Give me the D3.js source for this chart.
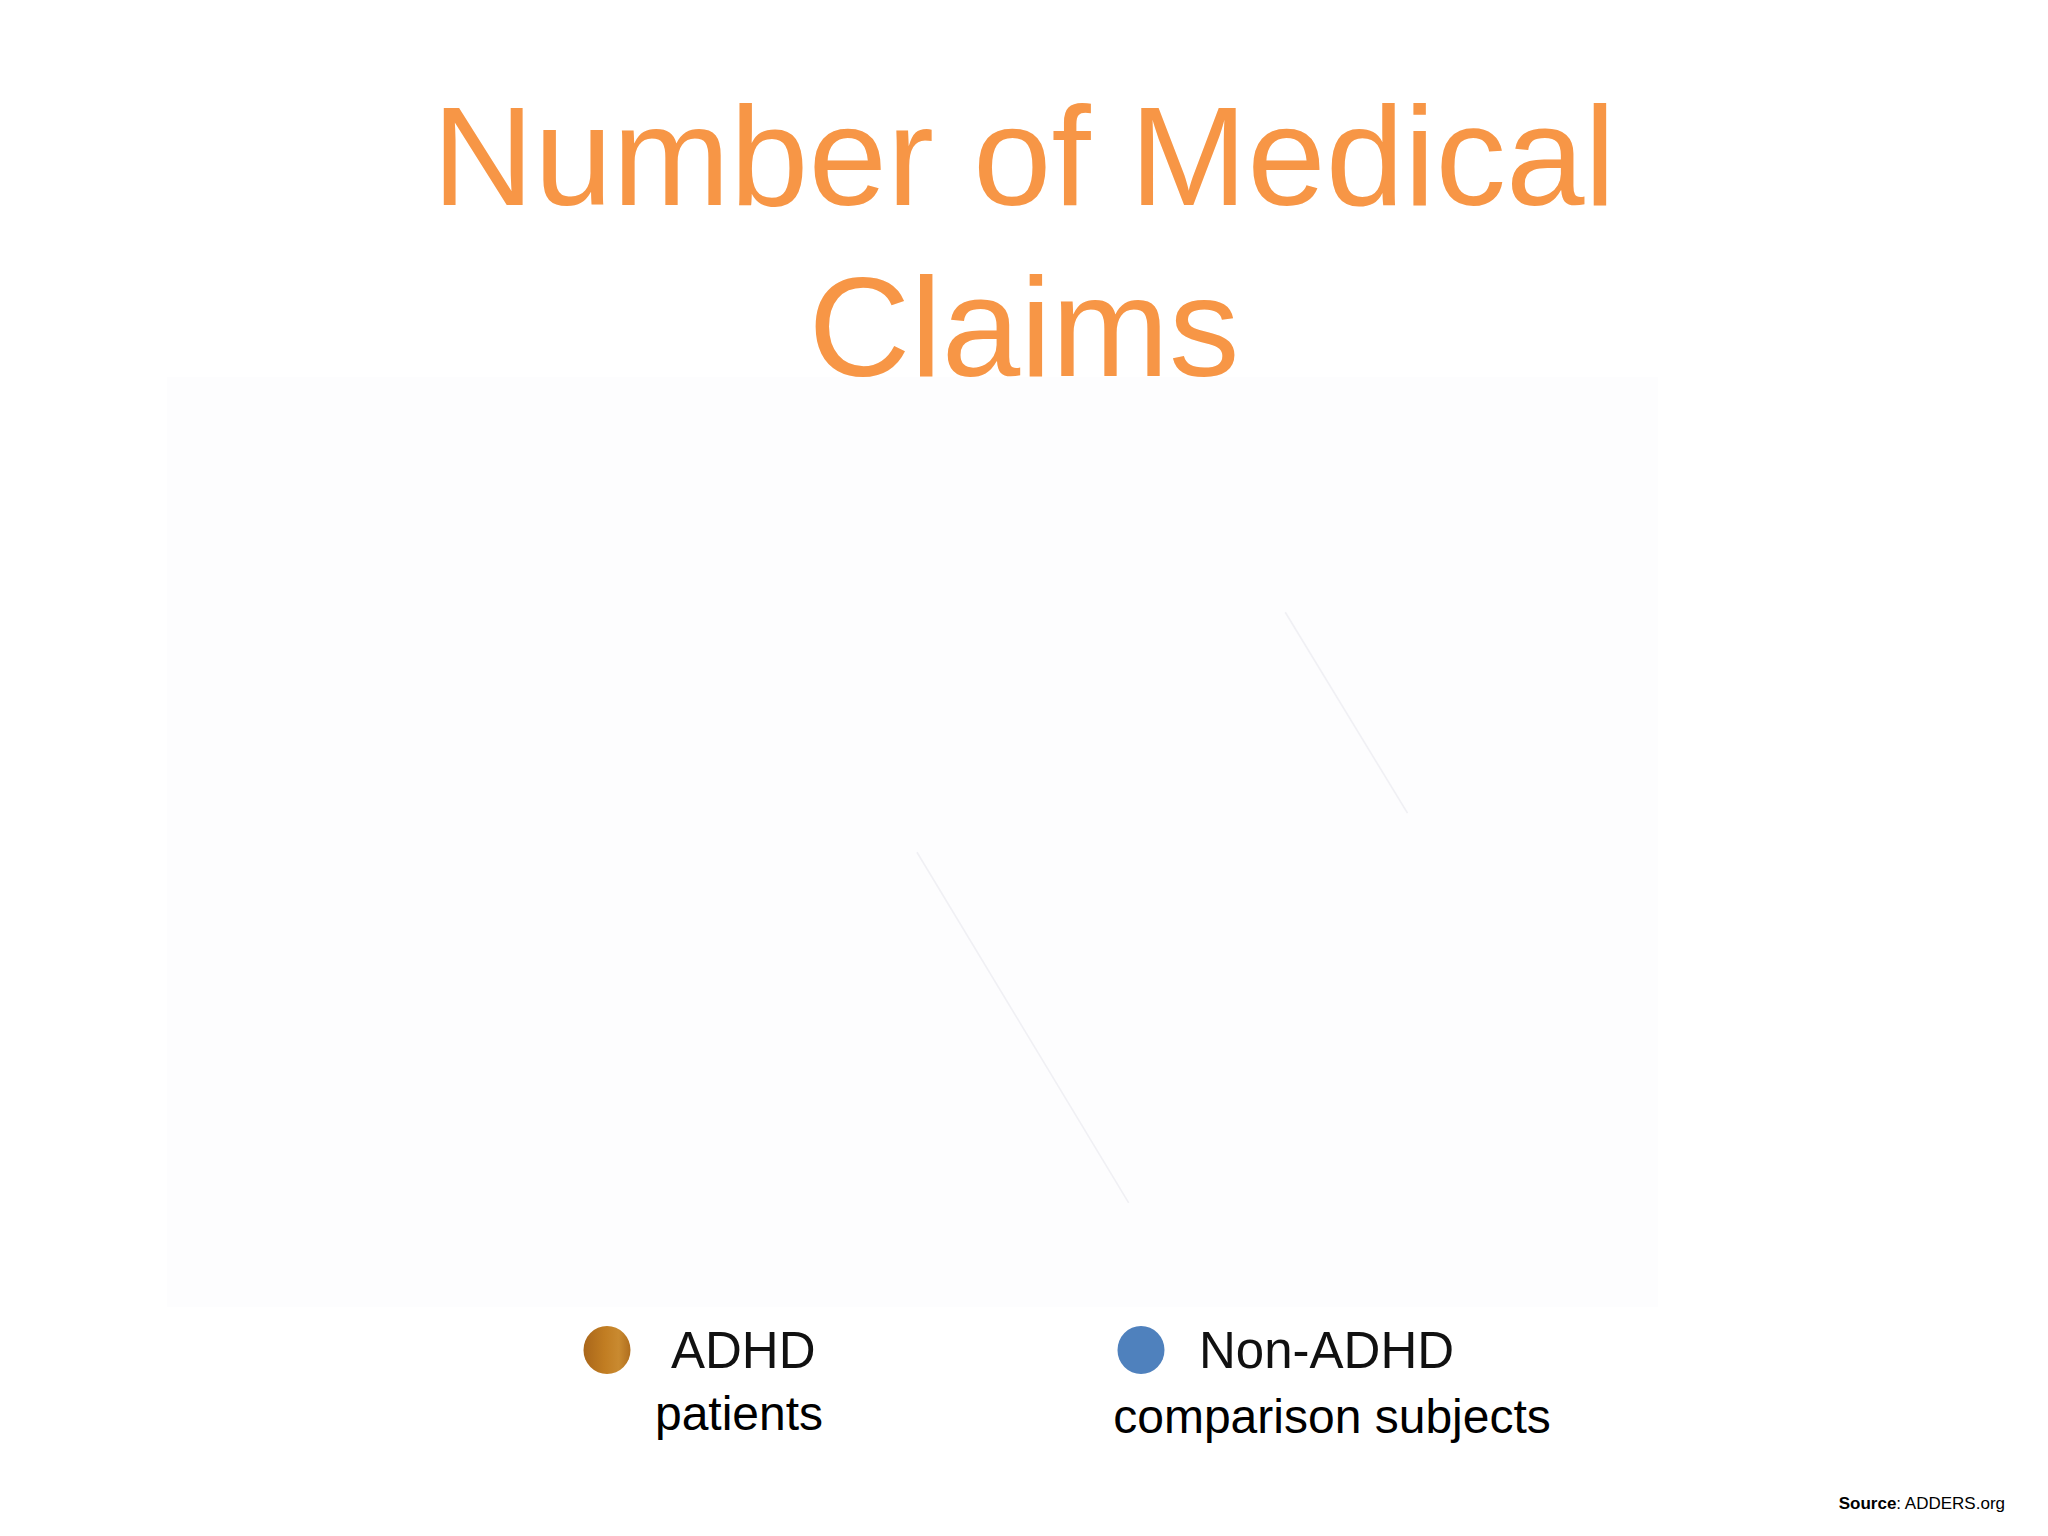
<!DOCTYPE html>
<html>
<head>
<meta charset="utf-8">
<script src="https://cdn.jsdelivr.net/npm/d3@7"></script>
<style>
  html, body { margin: 0; padding: 0; background: #ffffff; }
  svg { display: block; }
</style>
</head>
<body>
<div id="chart"></div>
<script>
(function (d3) {
    'use strict';

    // Title lines.
    var titleLines = ['Number of Medical', 'Claims'];

    // Legend labels (two lines per entry).
    var legendTop = ['ADHD', 'Non-ADHD'];
    var legendBottom = ['patients', 'comparison subjects'];

    // Faint remnants of the two series (x and y on a 0-100 scale).
    var adhdX = [50.3, 64.5];
    var adhdY = [48.9, 11.2];
    var nonAdhdX = [75.0, 83.2];
    var nonAdhdY = [74.7, 53.1];

    var sourceLabel = 'Source';
    var sourceText = ': ADDERS.org';

    var width = 2048;
    var height = 1536;

    // Plot area.
    var plot = {left: 167, right: 1658, top: 377, bottom: 1307};

    var x = d3.scaleLinear().domain([0, 100]).range([plot.left, plot.right]);
    var y = d3.scaleLinear().domain([0, 100]).range([plot.bottom, plot.top]);

    var svg = d3.select('#chart').append('svg')
        .attr('width', width)
        .attr('height', height)
    ;

    var defs = svg.append('defs');
    var grad = defs.append('linearGradient')
        .attr('id', 'adhdFill')
        .attr('x1', '0%').attr('x2', '100%')
        .attr('y1', '0%').attr('y2', '0%')
    ;
    grad.append('stop').attr('offset', '0%').attr('stop-color', '#a9661a');
    grad.append('stop').attr('offset', '45%').attr('stop-color', '#c17d22');
    grad.append('stop').attr('offset', '75%').attr('stop-color', '#c98a30');
    grad.append('stop').attr('offset', '100%').attr('stop-color', '#b06e1e');

    // Background of the plot area.
    svg.append('rect')
        .attr('x', x(0))
        .attr('y', y(100))
        .attr('width', x(100) - x(0))
        .attr('height', y(0) - y(100))
        .attr('fill', '#fdfdfe')
    ;

    // Title.
    svg.append('g')
        .attr('class', 'title')
        .selectAll('text')
        .data(titleLines)
        .join('text')
        .attr('x', 1024)
        .attr('y', function (d, i) { return 205 + i * 171; })
        .attr('text-anchor', 'middle')
        .attr('font-family', '"Liberation Sans", Arial, sans-serif')
        .attr('font-size', 141)
        .attr('fill', '#f79646')
        .text(function (d) { return d; })
    ;

    // Faint lines.
    var line = d3.line()
        .x(function (d) { return x(d[0]); })
        .y(function (d) { return y(d[1]); })
    ;
    var lines = [d3.zip(adhdX, adhdY), d3.zip(nonAdhdX, nonAdhdY)];
    svg.append('g')
        .attr('class', 'lines')
        .selectAll('path')
        .data(lines)
        .join('path')
        .attr('d', line)
        .attr('fill', 'none')
        .attr('stroke', '#f0f0f4')
        .attr('stroke-width', 1.6)
    ;

    // Legend.
    var legendX = [607, 1141];
    var legendFill = ['url(#adhdFill)', '#4f81bd'];
    var legend = svg.append('g').attr('class', 'legend');

    legend.selectAll('ellipse')
        .data(legendTop)
        .join('ellipse')
        .attr('cx', function (d, i) { return legendX[i]; })
        .attr('cy', 1350)
        .attr('rx', 23.5)
        .attr('ry', 24)
        .attr('fill', function (d, i) { return legendFill[i]; })
    ;

    var topOffset = [64, 58];
    legend.selectAll('text.top')
        .data(legendTop)
        .join('text')
        .attr('class', 'top')
        .attr('x', function (d, i) { return legendX[i] + topOffset[i]; })
        .attr('y', 1368)
        .attr('font-family', '"Liberation Sans", Arial, sans-serif')
        .attr('font-size', 51)
        .attr('fill', '#111111')
        .text(function (d) { return d; })
    ;

    var bottomCenter = [739, 1332];
    var bottomY = [1430, 1433];
    legend.selectAll('text.bottom')
        .data(legendBottom)
        .join('text')
        .attr('class', 'bottom')
        .attr('x', function (d, i) { return bottomCenter[i]; })
        .attr('y', function (d, i) { return bottomY[i]; })
        .attr('text-anchor', 'middle')
        .attr('font-family', '"Liberation Sans", Arial, sans-serif')
        .attr('font-size', 48)
        .attr('fill', '#000000')
        .text(function (d) { return d; })
    ;

    // Source note.
    var src = svg.append('text')
        .attr('x', 2005)
        .attr('y', 1509)
        .attr('text-anchor', 'end')
        .attr('font-family', '"Liberation Sans", Arial, sans-serif')
        .attr('font-size', 17)
        .attr('fill', '#000000')
    ;
    src.append('tspan').attr('font-weight', 'bold').text(sourceLabel);
    src.append('tspan').text(sourceText);
})(d3);
</script>
</body>
</html>
